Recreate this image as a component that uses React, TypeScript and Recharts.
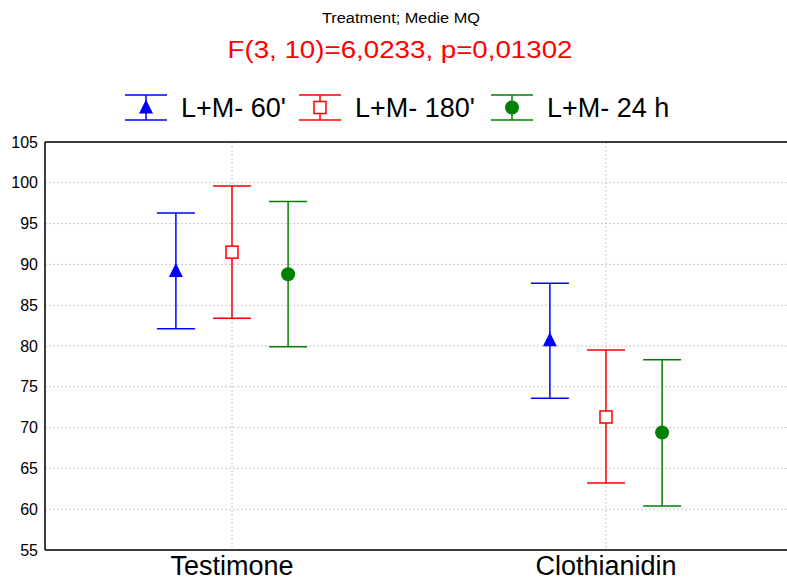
import { ScatterChart, Scatter, XAxis, YAxis, CartesianGrid, ErrorBar, ReferenceLine } from 'recharts'

// Groups along the x axis
const categories = ['Testimone', 'Clothianidin']

// Mean, lower and upper interval limits per group
const mean60 = [89.2, 80.7]
const low60 = [82.1, 73.6]
const high60 = [96.3, 87.7]

const mean180 = [91.5, 71.3]
const low180 = [83.4, 63.2]
const high180 = [99.6, 79.5]

const mean24 = [88.8, 69.4]
const low24 = [79.9, 60.4]
const high24 = [97.7, 78.3]

const yTicks = [55, 60, 65, 70, 75, 80, 85, 90, 95, 100, 105]

const FONT = '"Liberation Sans", Arial, sans-serif'

type Series = {
  name: string
  color: string
  offset: number
  mean: number[]
  low: number[]
  high: number[]
}

const series: Series[] = [
  { name: "L+M- 60'", color: '#0000ff', offset: -0.15, mean: mean60, low: low60, high: high60 },
  { name: "L+M- 180'", color: '#ff0000', offset: 0, mean: mean180, low: low180, high: high180 },
  { name: 'L+M- 24 h', color: '#008000', offset: 0.15, mean: mean24, low: low24, high: high24 },
]

const rowsFor = (s: Series) =>
  categories.map((_, i) => ({
    x: i + 0.5 + s.offset,
    y: s.mean[i],
    err: [s.mean[i] - s.low[i], s.high[i] - s.mean[i]],
  }))

// Marker shapes
const Triangle = ({ cx, cy, color }: any) => (
  <path d={`M${cx},${cy - 8} L${cx + 7},${cy + 6} L${cx - 7},${cy + 6} Z`} fill={color} />
)
const Square = ({ cx, cy, color }: any) => (
  <rect x={cx - 6} y={cy - 6} width={12} height={12} fill="#ffffff" stroke={color} strokeWidth={1.5} />
)
const Dot = ({ cx, cy, color }: any) => <circle cx={cx} cy={cy} r={7} fill={color} />

const markers = [Triangle, Square, Dot]

const legendCenters = [146, 320, 512]

function Titles() {
  return (
    <svg width={787} height={135} style={{ position: 'absolute', left: 0, top: 0, pointerEvents: 'none' }}>
      <text x={401} y={23} textAnchor="middle" fontFamily={FONT} fontSize={14} textLength={158} lengthAdjust="spacingAndGlyphs" fill="#000">
        Treatment; Medie MQ
      </text>
      <text x={400} y={58} textAnchor="middle" fontFamily={FONT} fontSize={23} textLength={345} lengthAdjust="spacingAndGlyphs" fill="#ff0000">
        F(3, 10)=6,0233, p=0,01302
      </text>
      {series.map((s, i) => {
        const cx = legendCenters[i]
        const Marker = markers[i]
        return (
          <g key={s.name}>
            <line x1={cx} x2={cx} y1={95} y2={120} stroke={s.color} strokeWidth={1.5} />
            <line x1={cx - 21} x2={cx + 21} y1={95} y2={95} stroke={s.color} strokeWidth={1.5} />
            <line x1={cx - 21} x2={cx + 21} y1={120} y2={120} stroke={s.color} strokeWidth={1.5} />
            <Marker cx={cx} cy={107.5} color={s.color} />
            <text x={cx + 35} y={117} fontFamily={FONT} fontSize={27} fill="#000">
              {s.name}
            </text>
          </g>
        )
      })}
    </svg>
  )
}

export default function App() {
  return (
    <div style={{ position: 'absolute', left: 0, top: 0, width: 787, height: 587, background: '#fff' }}>
      <ScatterChart width={787} height={587} margin={{ top: 142, right: -6, bottom: 0, left: 0 }}>
        <CartesianGrid stroke="#c8c8c8" strokeDasharray="2 2" />
        <XAxis
          type="number"
          dataKey="x"
          domain={[0, 2]}
          ticks={[0.5, 1.5]}
          tickFormatter={(v: number) => categories[Math.floor(v)]}
          height={37}
          tickLine={false}
          tickSize={0}
          tickMargin={6}
          axisLine={{ stroke: '#000', strokeWidth: 1.5 }}
          tick={{ fontSize: 27, fill: '#000', fontFamily: FONT }}
        />
        <YAxis
          type="number"
          dataKey="y"
          domain={[55, 105]}
          ticks={yTicks}
          width={45}
          tickLine={false}
          tickSize={0}
          tickMargin={7}
          axisLine={{ stroke: '#000', strokeWidth: 1.5 }}
          tick={{ fontSize: 16, fill: '#000', fontFamily: FONT }}
        />
        <ReferenceLine y={105} stroke="#000" strokeWidth={1.5} />
        {series.map((s, i) => {
          const Marker = markers[i]
          return (
            <Scatter
              key={s.name}
              name={s.name}
              data={rowsFor(s)}
              isAnimationActive={false}
              shape={(p: any) => <Marker cx={p.cx} cy={p.cy} color={s.color} />}
            >
              <ErrorBar dataKey="err" direction="y" width={19} stroke={s.color} strokeWidth={1.5} />
            </Scatter>
          )
        })}
      </ScatterChart>
      <Titles />
    </div>
  )
}
